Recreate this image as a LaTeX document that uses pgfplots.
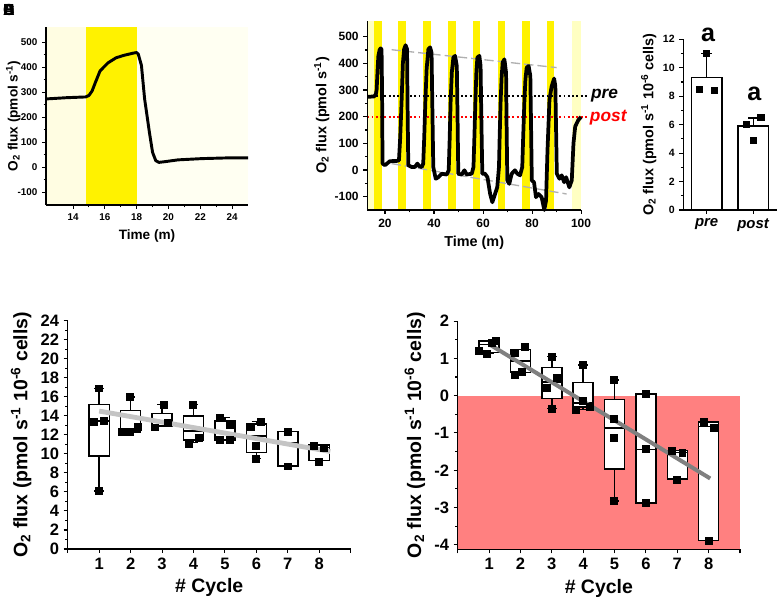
\documentclass[border=0pt]{standalone}
\usepackage{fontspec}
\setmainfont{Liberation Sans}
\usepackage{pgfplots}
\pgfplotsset{compat=1.18}
\usepgfplotslibrary{statistics}
\definecolor{creamL}{HTML}{FFFDE2}
\definecolor{creamR}{HTML}{FFFFF2}
\definecolor{paleY}{HTML}{FFFFC2}
\definecolor{salmon}{HTML}{FF8080}
\definecolor{lgray}{HTML}{C4C4C4}
\definecolor{dgray}{HTML}{808080}
\definecolor{dashg}{HTML}{B0B0B0}
\newcommand{\fs}[1]{\fontsize{#1}{#1}\selectfont}
\pgfplotsset{
  panel/.style={
    scale only axis, axis on top,
    axis x line*=bottom, axis y line*=left,
    axis line style={line width=0.8pt,-},
    tick align=outside, tick style={line width=0.8pt, black},
    major tick length=3pt, minor tick length=1.8pt,
    /pgf/number format/assume math mode=true,
    /pgf/number format/1000 sep={},
    enlargelimits=false,
    boxplot/draw direction=y,
  },
  bx/.style={boxplot/draw direction=y, boxplot prepared={#1, box extend=0.64, whisker extend=0.3}, draw=black, fill=white, line width=1.1pt},
  sq/.style={only marks, mark=square*, mark size=2.6pt, black},
}
\begin{document}
\begin{tikzpicture}
\path[use as bounding box] (0,0) rectangle (585pt,448.5pt);
\foreach \L in {A,B,C,D,E}{\node[font=\bfseries\fs{12}] at (6.75pt,441pt) {\L};}

% ---------- Panel A ----------
\begin{axis}[panel, at={(34.5pt,294.75pt)}, anchor=south west, width=151.5pt, height=133.5pt,
  xmin=12.3, xmax=25, ymin=-150, ymax=560,
  xtick={14,16,...,24}, minor x tick num=1, ytick={-100,0,...,500}, minor y tick num=1,
  tick label style={font=\bfseries\fs{7.4}},
  label style={font=\bfseries\fs{10.2}},
  ylabel shift=-9pt,
  xlabel={Time (m)}, ylabel={O\textsubscript{2} flux (pmol s\textsuperscript{-1})}]
\addplot[draw=none, fill=creamL] coordinates {(12.3,-150)(12.3,560)(14.8,560)(14.8,-150)} -- cycle;
\addplot[draw=none, fill=yellow] coordinates {(14.8,-150)(14.8,560)(18,560)(18,-150)} -- cycle;
\addplot[draw=none, fill=creamR] coordinates {(18,-150)(18,560)(25,560)(25,-150)} -- cycle;
\addplot[black, line width=2.2pt, line join=round] coordinates {
(12.3,273)(13.6,278)(14.8,281)(15.0,287)(15.2,305)(15.4,338)(15.7,385)(16.2,417)(16.7,437)(17.2,447)(17.8,456)(18.0,458)(18.1,452)(18.3,407)(18.5,273)(18.8,140)(19.0,60)(19.2,27)(19.4,20)(19.8,23)(20.6,30)(22.1,35)(23.8,38)(25,38)};
\end{axis}

% ---------- Panel B ----------
\begin{axis}[panel, at={(275.5pt,291pt)}, anchor=south west, width=160.3pt, height=142pt,
  xmin=12.8, xmax=100, ymin=-150, ymax=560, clip=false,
  xtick={20,40,...,100}, minor x tick num=1, ytick={-100,0,...,500}, minor y tick num=1,
  tick label style={font=\bfseries\fs{9}},
  label style={font=\bfseries\fs{10.8}},
  ylabel shift=-3pt,
  xlabel={Time (m)}, ylabel={O\textsubscript{2} flux (pmol s\textsuperscript{-1})}]
\addplot[draw=none, fill=paleY] coordinates {(12.8,-150)(12.8,560)(15.6,560)(15.6,-150)} -- cycle;
\addplot[draw=none, fill=paleY] coordinates {(96.2,-150)(96.2,560)(100,560)(100,-150)} -- cycle;
\addplot[draw=none, fill=yellow] coordinates {(15.6,-150)(15.6,560)(18.6,560)(18.6,-150)} -- cycle;
\addplot[draw=none, fill=yellow] coordinates {(25.5,-150)(25.5,560)(28.5,560)(28.5,-150)} -- cycle;
\addplot[draw=none, fill=yellow] coordinates {(35.6,-150)(35.6,560)(38.6,560)(38.6,-150)} -- cycle;
\addplot[draw=none, fill=yellow] coordinates {(45.8,-150)(45.8,560)(48.9,560)(48.9,-150)} -- cycle;
\addplot[draw=none, fill=yellow] coordinates {(55.8,-150)(55.8,560)(58.8,560)(58.8,-150)} -- cycle;
\addplot[draw=none, fill=yellow] coordinates {(66,-150)(66,560)(69,560)(69,-150)} -- cycle;
\addplot[draw=none, fill=yellow] coordinates {(76,-150)(76,560)(79,560)(79,-150)} -- cycle;
\addplot[draw=none, fill=yellow] coordinates {(86,-150)(86,560)(89,560)(89,-150)} -- cycle;
\addplot[dashg, line width=1pt, dash pattern=on 7pt off 3pt] coordinates {(22.7,451)(90,384)};
\addplot[dashg, line width=1pt, dash pattern=on 7pt off 3pt] coordinates {(22.7,24)(94.1,-90)};
\addplot[black, line width=1.4pt, dash pattern=on 1.4pt off 1.8pt] coordinates {(12.8,277)(103.3,277)};
\addplot[red, line width=1.4pt, dash pattern=on 1.4pt off 1.8pt] coordinates {(12.8,198)(103.3,198)};
\addplot[black, line width=2.8pt, line join=round] coordinates {
(12.8,274)(15.6,276)(16.3,285)(16.6,302)(17.0,380)(17.3,428)(17.8,450)(18.2,456)(18.6,453)(18.8,300)(19.0,24)(20,18)(22,33)(24.8,34)(25.7,36)(26.2,120)(26.8,264)(27.3,400)(27.8,453)(28.4,468)(29,453)(29.2,250)(29.5,18)(30.9,11)(32.2,11)(33.2,24)(34,14)(35,11)(35.6,24)(36.0,120)(36.5,264)(37.0,380)(37.7,453)(38.4,460)(39,440)(39.3,250)(39.7,11)(40.7,-33)(41.8,-27)(43.1,-14)(45.2,-17)(46,-1)(46.4,120)(46.8,264)(47.3,370)(47.9,422)(48.6,428)(49.3,390)(49.6,200)(49.9,-14)(51.3,-17)(52.4,-1)(53.3,-17)(55.4,-14)(56.1,11)(56.5,130)(56.9,264)(57.3,370)(57.7,422)(58.5,428)(59,390)(59.3,200)(59.7,-14)(60.8,-14)(61.8,-27)(62.9,-90)(63.8,-121)(64.9,-90)(65.8,-65)(66.5,11)(66.8,130)(67.2,264)(67.6,350)(68,403)(68.7,415)(69.4,365)(69.6,180)(69.9,-39)(70.7,-52)(71.7,-14)(73,-1)(74,-14)(75.1,-20)(76,11)(76.4,130)(76.9,264)(77.3,340)(77.8,384)(78.6,390)(79.3,352)(79.6,160)(79.9,-39)(80.8,-46)(81.6,-102)(82.6,-90)(83.9,-102)(85,-150)(85.7,-115)(86.3,74)(87.1,264)(88,314)(89,343)(89.5,314)(89.8,150)(90.1,-14)(91.2,-33)(92.1,-20)(93.1,-46)(93.9,-27)(95.2,-65)(96.2,-39)(96.9,100)(97.6,163)(98.9,188)(100,199)};
\node[font=\bfseries\itshape\fs{13}, anchor=west, inner sep=0pt] at (axis cs:104,277) {pre};
\node[font=\bfseries\itshape\fs{13}, anchor=west, inner sep=0pt, text=red] at (axis cs:103.5,198) {post};
\end{axis}

% ---------- Panel C ----------
\begin{axis}[panel, at={(512.5pt,291pt)}, anchor=south west, width=70pt, height=128pt,
  xmin=0.5, xmax=2.5, ymin=0, ymax=12, clip=false, axis on top=false,
  xtick={1,2}, xticklabels={\textit{pre},\textit{post}}, ytick={0,2,...,12}, minor y tick num=1,
  yticklabel style={font=\bfseries\fs{7.9}},
  xticklabel style={font=\bfseries\fs{11.2}},
  label style={font=\bfseries\fs{10.8}},
  ylabel shift=-2pt,
  ylabel={O\textsubscript{2} flux (pmol s\textsuperscript{-1} 10\textsuperscript{-6} cells)}]
\addplot[ybar, bar width=23pt, fill=white, draw=black, line width=1.1pt,
  error bars/.cd, y dir=plus, y explicit, error bar style={line width=1.1pt},
  error mark options={rotate=90, mark size=4pt, line width=1.1pt}]
  coordinates {(1,9.3) +- (0,1.72) (2,5.9) +- (0,0.58)};
\addplot[sq, mark size=2.3pt] coordinates {(1.0,11.0)(0.84,8.49)(1.17,8.39)(1.85,6.05)(2.16,6.5)(2.0,4.92)};
\node[font=\bfseries\fs{18.8}, anchor=base] at (axis cs:1.03,11.85) {a};
\node[font=\bfseries\fs{18.8}, anchor=base] at (axis cs:2.02,7.7) {a};
\end{axis}

% ---------- Panel D ----------
\begin{axis}[panel, at={(50.8pt,36.75pt)}, anchor=south west, width=212.25pt, height=171.2pt,
  xmin=0, xmax=9, ymin=0, ymax=24, axis on top=false,
  xtick={0,...,9}, xticklabels={,1,2,3,4,5,6,7,8,}, ytick={0,2,...,24}, minor y tick num=1,
  tick label style={font=\bfseries\fs{12.4}},
  label style={font=\bfseries\fs{14.6}},
  xlabel={\# Cycle}, ylabel={O\textsubscript{2} flux (pmol s\textsuperscript{-1} 10\textsuperscript{-6} cells)}]
\addplot[bx={draw position=1, lower whisker=6.1, lower quartile=9.78, median=13.45, upper quartile=15.2, upper whisker=16.9}] coordinates {};
\addplot[bx={draw position=2, lower whisker=12.3, lower quartile=12.3, median=12.5, upper quartile=14.54, upper whisker=16.0}] coordinates {};
\addplot[bx={draw position=3, lower whisker=12.93, lower quartile=12.93, median=13.4, upper quartile=14.27, upper whisker=15.2}] coordinates {};
\addplot[bx={draw position=4, lower whisker=11.18, lower quartile=11.46, median=12.4, upper quartile=14.0, upper whisker=15.2}] coordinates {};
\addplot[bx={draw position=5, lower whisker=11.46, lower quartile=11.46, median=12.2, upper quartile=13.46, upper whisker=13.8}] coordinates {};
\addplot[bx={draw position=6, lower whisker=9.5, lower quartile=10.17, median=11.88, upper quartile=13.14, upper whisker=13.4}] coordinates {};
\addplot[bx={draw position=7, lower whisker=8.73, lower quartile=8.73, median=11.18, upper quartile=12.34, upper whisker=12.34}] coordinates {};
\addplot[bx={draw position=8, lower whisker=9.29, lower quartile=9.29, median=10.65, upper quartile=10.94, upper whisker=10.94}] coordinates {};
\addplot[lgray, line width=3.6pt] coordinates {(1,14.5)(8.35,10.25)};
\addplot[sq] coordinates {(1.0,16.9)(0.82,13.4)(1.16,13.5)(1.0,6.1)
 (1.98,16.0)(1.72,12.3)(1.96,12.3)(2.22,12.9)
 (3.04,15.2)(2.78,12.8)(3.18,13.3)
 (3.99,15.2)(3.85,11.1)(4.17,11.7)
 (4.84,13.8)(5.16,13.1)(4.84,11.5)(5.16,11.5)
 (5.83,12.9)(6.14,13.4)(5.98,10.9)(5.98,9.5)
 (6.99,12.3)(7.0,8.7)
 (7.83,10.9)(8.14,10.6)(7.99,9.2)};
\end{axis}

% ---------- Panel E ----------
\begin{axis}[panel, at={(343.3pt,36.5pt)}, anchor=south west, width=211.7pt, height=171.2pt,
  xmin=0, xmax=9, ymin=-4.12, ymax=2,
  xtick={0,...,9}, xticklabels={,1,2,3,4,5,6,7,8,}, ytick={-4,...,2}, minor y tick num=1,
  tick label style={font=\bfseries\fs{12.4}},
  label style={font=\bfseries\fs{14.6}},
  xlabel={\# Cycle}, ylabel={O\textsubscript{2} flux (pmol s\textsuperscript{-1} 10\textsuperscript{-6} cells)}]
\addplot[draw=none, fill=salmon] coordinates {(0,0)(9,0)(9,-4.12)(0,-4.12)} -- cycle;
\addplot[bx={draw position=1, lower whisker=1.13, lower quartile=1.15, median=1.37, upper quartile=1.47, upper whisker=1.48}] coordinates {};
\addplot[bx={draw position=2, lower whisker=0.62, lower quartile=0.62, median=0.93, upper quartile=1.24, upper whisker=1.24}] coordinates {};
\addplot[bx={draw position=3, lower whisker=-0.34, lower quartile=-0.07, median=0.37, upper quartile=0.76, upper whisker=1.05}] coordinates {};
\addplot[bx={draw position=4, lower whisker=-0.37, lower quartile=-0.31, median=-0.2, upper quartile=0.35, upper whisker=0.82}] coordinates {};
\addplot[bx={draw position=5, lower whisker=-2.83, lower quartile=-1.97, median=-0.87, upper quartile=-0.1, upper whisker=0.42}] coordinates {};
\addplot[bx={draw position=6, lower whisker=-2.88, lower quartile=-2.88, median=-1.44, upper quartile=0.04, upper whisker=0.04}] coordinates {};
\addplot[bx={draw position=7, lower whisker=-2.24, lower quartile=-2.24, median=-1.53, upper quartile=-1.47, upper whisker=-1.47}] coordinates {};
\addplot[bx={draw position=8, lower whisker=-3.89, lower quartile=-3.89, median=-0.83, upper quartile=-0.71, upper whisker=-0.71}] coordinates {};
\addplot[dgray, line width=3pt] coordinates {(1,1.38)(8.05,-2.22)};
\addplot[sq] coordinates {(0.66,1.2)(0.93,1.13)(1.09,1.42)(1.22,1.48)
 (1.83,1.16)(2.15,1.30)(1.83,0.55)(2.04,0.64)
 (3.0,1.05)(3.0,-0.34)(2.84,0.2)(3.15,0.48)
 (4.0,0.82)(3.77,-0.37)(3.98,-0.13)(4.2,-0.3)
 (4.98,0.42)(4.98,-0.63)(4.98,-1.12)(4.98,-2.83)
 (6.0,0.04)(6.0,-1.43)(6.0,-2.88)
 (6.81,-1.47)(7.16,-1.52)(6.99,-2.25)
 (7.84,-0.7)(8.16,-0.85)(8.0,-3.9)};
\end{axis}
\end{tikzpicture}
\end{document}
